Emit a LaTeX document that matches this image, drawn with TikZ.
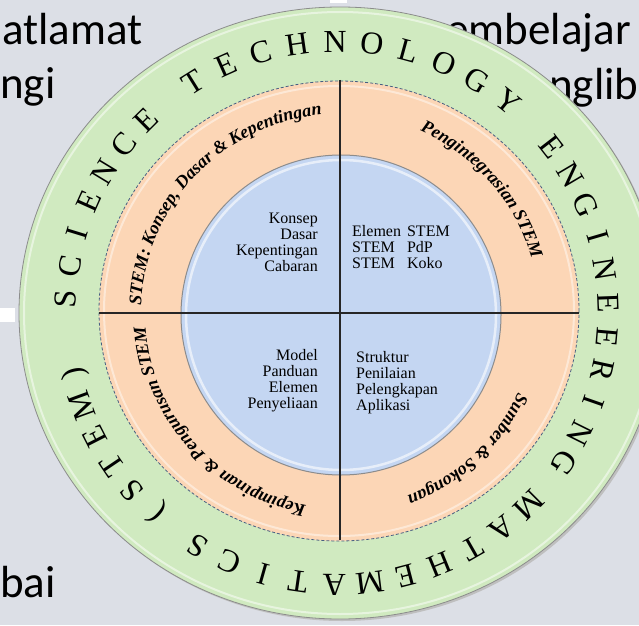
\documentclass[tikz,border=0pt]{standalone}
\usepackage{fontspec}
\setmainfont{Liberation Serif}
\newfontfamily\slidefont{Carlito}
\usetikzlibrary{decorations.text}
\definecolor{bg}{RGB}{220,223,230}
\definecolor{ringgreen}{RGB}{208,234,192}
\definecolor{ringorange}{RGB}{252,214,182}
\definecolor{coreblue}{RGB}{196,214,242}
\definecolor{edgeblue}{RGB}{70,95,130}
\newcommand\rlfont{\fontsize{18}{18}\selectfont\bfseries\itshape}
\tikzset{
  slidetext/.style={inner sep=0pt, font=\slidefont\fontsize{45}{54}\selectfont, text=black},
  outerletter/.style={anchor=base, inner sep=0pt, font=\fontsize{32}{32}\selectfont, text=black},
  innertext/.style={inner sep=0pt, font=\fontsize{16}{16}\selectfont, text=black},
  divider/.style={line width=1.6pt, draw=black!85},
  ringlabel/.style={decorate, decoration={text along path, text align=center, text={#1}}}
}
\begin{document}
\begin{tikzpicture}[x=1pt,y=1pt]
\useasboundingbox (0,0) rectangle (639,625);
\clip (0,0) rectangle (639,625);
\fill[bg] (0,0) rectangle (639,625);
\fill[white] (0,303) rectangle (15,317);
\fill[white] (330,622) rectangle (347,625);

% slide text fragments (behind the diagram)
\node[slidetext, anchor=base west] (s1) at (2,580) {atlamat};
\node[slidetext, anchor=base west] (s2) at (0,526) {ngi};
\node[slidetext, anchor=base east] (s3) at (631,580) {embelajar};
\node[slidetext, anchor=base west] (s4) at (549,525) {nglib};
\node[slidetext, anchor=base west] (s5) at (0,28) {bai};

% centres
\coordinate (gc) at (340,312);
\coordinate (oc) at (337,312);
\coordinate (rc) at (340,312);
\coordinate (bc) at (341,310);

% green ring
\fill[black!25] ([shift={(2,-2)}]gc) ellipse [x radius=321, y radius=306];
\filldraw[fill=ringgreen, draw=black!45, line width=0.8pt] (gc) ellipse [x radius=321, y radius=306];
\draw[white, opacity=0.5, line width=2pt] (gc) ellipse [x radius=316, y radius=301];

% orange ring
\filldraw[fill=ringorange, draw=edgeblue, densely dashed, line width=0.8pt] (339,314) ellipse [x radius=240, y radius=230];
\draw[white, opacity=0.45, line width=2pt] (339,314) ellipse [x radius=235, y radius=225];

% blue core
\filldraw[fill=coreblue, draw=black!45, line width=1pt] (bc) circle [radius=160];
\draw[white, opacity=0.6, line width=2.5pt] (bc) circle [radius=155];

% dividers
\coordinate (vt) at (340,545);
\coordinate (vb) at (340,85);
\coordinate (hl) at (99,312);
\coordinate (hr) at (579,312);
\draw[divider] (vt) -- (vb);
\draw[divider] (hl) -- (hr);

% outer ring letters
\foreach \ch/\a [count=\n] in {S/177, C/170, I/163, E/155.8, N/148.8, C/141.8, E/134.7,
  T/122, E/114.1, C/106.2, H/98.3, N/90.4, O/82.6, L/74.7, O/66.8, G/58.9, Y/51,
  E/37.7, N/30.6, G/23.5, I/16.3, N/9.2, E/2.1, E/-5, R/-12.1, I/-19.2, N/-26.4, G/-33.5,
  M/-45, A/-52.6, T/-60.2, H/-67.8, E/-75.4, M/-83, A/-90.6, T/-98.2, I/-105.8, C/-113.4, S/-121,
  {(}/-132, S/-139, T/-146, E/-153, M/-160, {)}/-167}{
  \node[outerletter, rotate=\a-90] (ol\n) at ([shift={(\a:261)}]oc) {\ch};
}

% orange ring labels
\path[ringlabel={|\rlfont|STEM: Konsep, Dasar {\&} Kepentingan}] ([shift={(177:199)}]rc) arc[start angle=177, end angle=96, radius=199];
\path[ringlabel={|\rlfont|Pengintegrasian STEM}] ([shift={(67:199)}]rc) arc[start angle=67, end angle=15, radius=199];
\path[ringlabel={|\rlfont|Kepimpinan {\&} Pengurusan STEM}] ([shift={(260:195)}]rc) arc[start angle=260, end angle=184, radius=195];
\path[ringlabel={|\rlfont|Sumber {\&} Sokongan}] ([shift={(-22:195)}]rc) arc[start angle=-22, end angle=-72, radius=195];

% inner quadrant texts
\node[innertext, anchor=north east, align=right] (q1) at (318,412) {Konsep\\Dasar\\Kepentingan\\Cabaran};
\node[innertext, anchor=north west] (q2) at (352,400) {\begin{tabular}{@{}l@{\hspace{6pt}}l@{}}Elemen & STEM\\ STEM & PdP\\ STEM & Koko\end{tabular}};
\node[innertext, anchor=north east, align=right] (q3) at (318,276) {Model\\Panduan\\Elemen\\Penyeliaan};
\node[innertext, anchor=north west, align=left] (q4) at (356,274) {Struktur\\Penilaian\\Pelengkapan\\Aplikasi};
\end{tikzpicture}
\end{document}
